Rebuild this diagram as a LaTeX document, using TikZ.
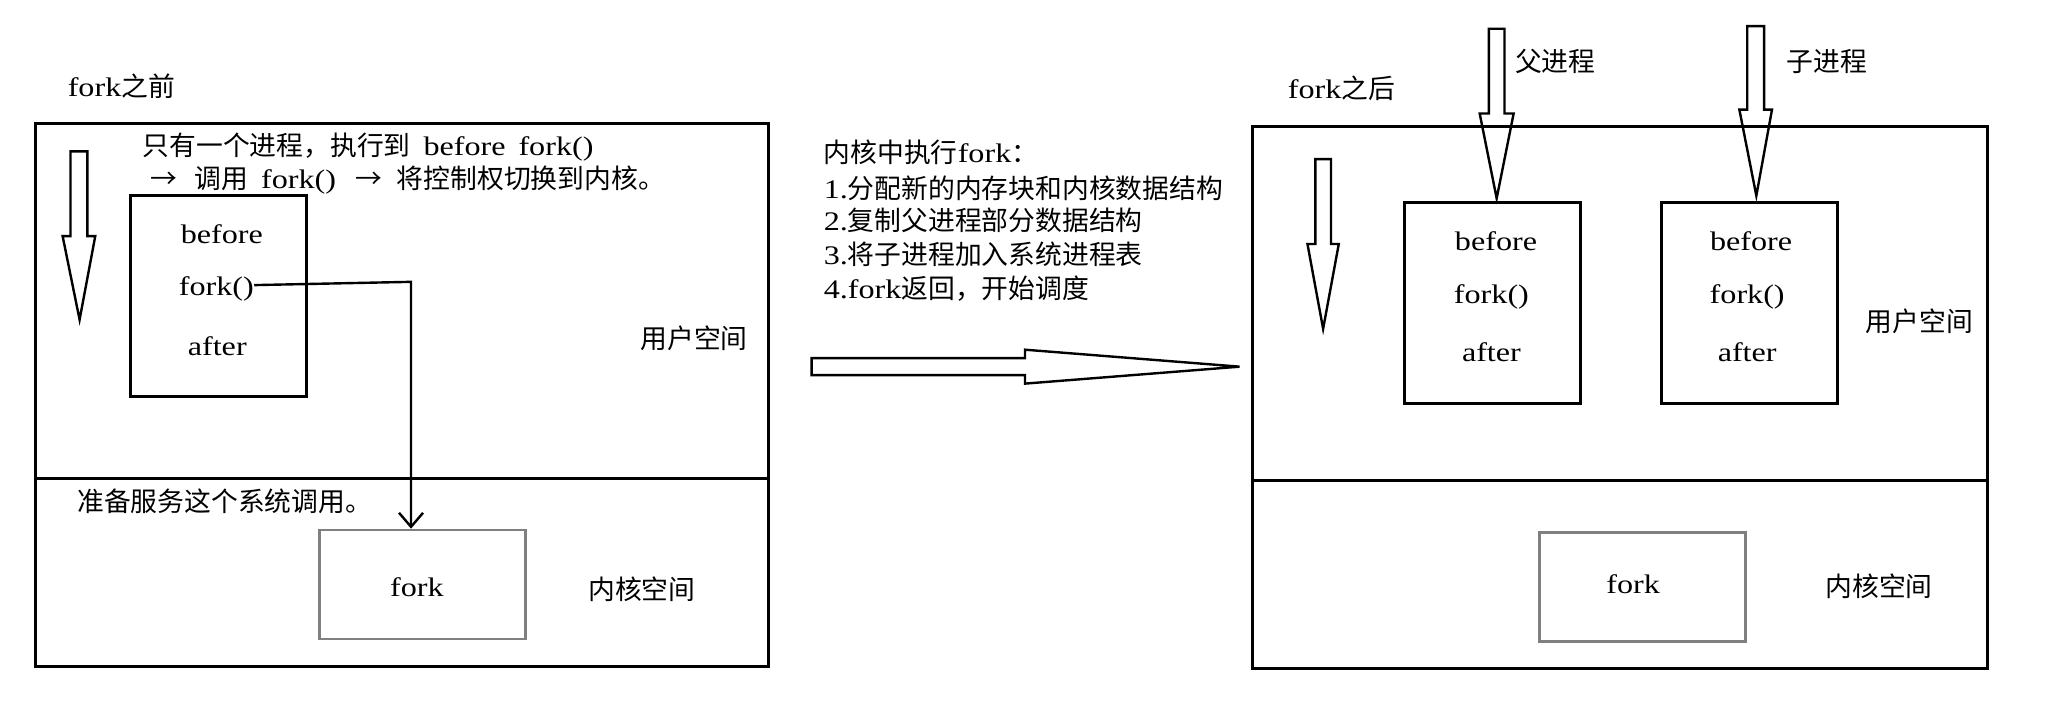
\documentclass[tikz,border=0pt]{standalone}
\usepackage{fontspec}
\setmainfont{Liberation Serif}[FakeStretch=1.2, WordSpace=1.6]
\newfontfamily\cjk{Noto Sans CJK SC}
\usetikzlibrary{arrows.meta}
\definecolor{kgray}{RGB}{128,128,128}
\tikzset{
  lbl/.style={inner sep=0pt, text height=11.8pt, text depth=1.6pt, font=\fontsize{13.4pt}{17pt}\selectfont},
  frame/.style={draw, line width=1.5pt, inner sep=0pt},
  procbox/.style={draw, line width=1.5pt, inner sep=0pt, minimum width=88pt, minimum height=100.5pt},
  kbox/.style={draw=kgray, line width=1.3pt, inner sep=0pt, minimum width=103pt, minimum height=54.6pt},
  hollow/.style={draw, line width=1.2pt, line join=miter},
  divider/.style={line width=1.5pt},
  conn/.style={line width=1.2pt, -{Straight Barb[length=7pt,width=12pt]}},
}
\begin{document}
\begin{tikzpicture}[x=0.6524pt, y=-0.6524pt]
\useasboundingbox (0,0) rectangle (1568,545);

% ---------------- left panel: before fork ----------------
\node[lbl] (t1) at (93,66.5) {fork{\cjk 之前}};
\node[frame, minimum width=366.3pt, minimum height=271.1pt] (lout) at (308.25,302.75) {};
\draw[divider] (lout.west |- 0,366.5) -- (lout.east |- 0,366.5);
\node[lbl, anchor=west] (l1) at (109,111) {{\cjk 只有一个进程，执行到} before fork()};
\node[lbl, anchor=west] (l2) at (115,136.5) {\makebox[22pt][l]{\cjk →}\makebox[33.3pt][l]{\cjk 调用}\makebox[47pt][l]{fork()}\makebox[20.9pt][l]{\cjk →}{\cjk 将控制权切换到内核。}};
\draw[hollow] (54,116) -- (67,116) -- (67,181) -- (73,181) -- (61,245) -- (48,181) -- (54,181) -- cycle;
\node[procbox] (lp) at (167.2,226.5) {};
\node[lbl] (lb) at (170,178.8) {before};
\node[lbl] (lf) at (165.8,218.5) {fork()};
\node[lbl] (la) at (166.5,264.4) {after};
\node[lbl] (lus) at (532,259) {\cjk 用户空间};
\node[lbl, anchor=west] (lprep) at (59,384.5) {\cjk 准备服务这个系统调用。};
\node[kbox] (lk) at (323.75,448) {};
\node[lbl] (lkf) at (319.5,449.6) {fork};
\node[lbl] (lks) at (492,451.5) {\cjk 内核空间};
\coordinate (turn) at (315,216);
\draw[conn] (lf.east) -- (turn) -- (turn |- lk.north);

% ---------------- middle ----------------
\node[lbl, anchor=west] (m0) at (631,117) {{\cjk 内核中执行}fork{\cjk ：}};
\node[lbl, anchor=west] (m1) at (631,144) {1.{\cjk 分配新的内存块和内核数据结构}};
\node[lbl, anchor=west] (m2) at (631,169) {2.{\cjk 复制父进程部分数据结构}};
\node[lbl, anchor=west] (m3) at (631,195) {3.{\cjk 将子进程加入系统进程表}};
\node[lbl, anchor=west] (m4) at (631,221) {4.fork{\cjk 返回，开始调度}};
\draw[hollow] (622,274.5) -- (785.5,274.5) -- (785.5,268) -- (950,281) -- (785.5,294) -- (785.5,287.5) -- (622,287.5) -- cycle;

% ---------------- right panel: after fork ----------------
\node[lbl] (t2) at (1028,67.7) {fork{\cjk 之后}};
\node[frame, minimum width=367.3pt, minimum height=271pt] (rout) at (1241.5,304.3) {};
\draw[divider] (rout.west |- 0,368) -- (rout.east |- 0,368);
\draw[hollow] (1008,122) -- (1020,122) -- (1020,187) -- (1026,187) -- (1014,252) -- (1002,187) -- (1008,187) -- cycle;
\draw[hollow] (1141,22) -- (1153,22) -- (1153,87) -- (1160,87) -- (1147,152) -- (1134,87) -- (1141,87) -- cycle;
\draw[hollow] (1339,20) -- (1352,20) -- (1352,84) -- (1358,84) -- (1346,150) -- (1333,84) -- (1339,84) -- cycle;
\node[lbl] (par) at (1192,47) {\cjk 父进程};
\node[lbl] (chi) at (1400,47) {\cjk 子进程};
\node[procbox] (rp) at (1144,232.5) {};
\node[lbl] (rpb) at (1146.5,184) {before};
\node[lbl] (rpf) at (1143,224.8) {fork()};
\node[lbl] (rpa) at (1143,269.5) {after};
\node[procbox] (rc) at (1340.5,232.5) {};
\node[lbl] (rcb) at (1342,184) {before};
\node[lbl] (rcf) at (1339,225) {fork()};
\node[lbl] (rca) at (1339,269.5) {after};
\node[lbl] (rus) at (1471,246.6) {\cjk 用户空间};
\node[kbox] (rk) at (1258.75,449.75) {};
\node[lbl] (rkf) at (1251.6,447) {fork};
\node[lbl] (rks) at (1440,449) {\cjk 内核空间};
\end{tikzpicture}
\end{document}
